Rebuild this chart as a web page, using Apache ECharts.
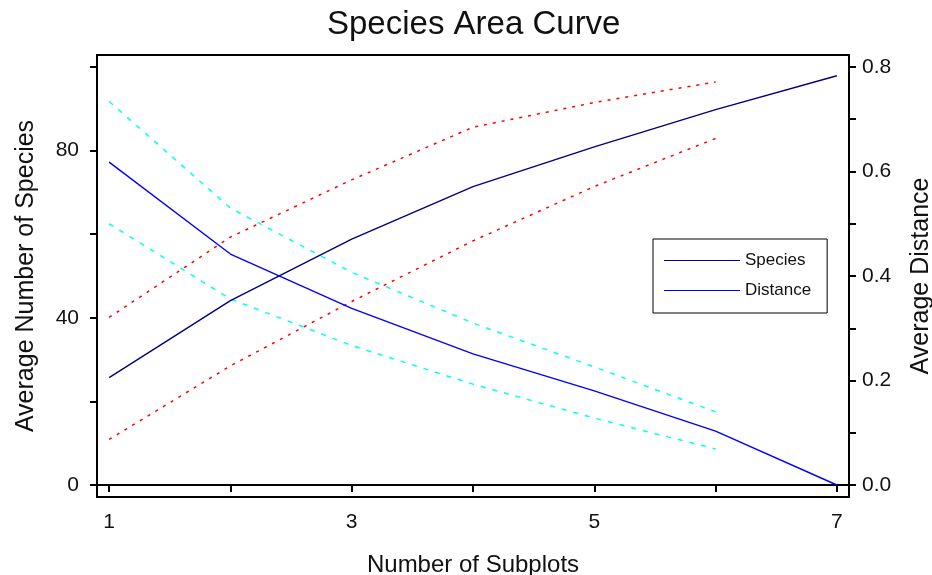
<!DOCTYPE html>
<html>
<head>
<meta charset="utf-8">
<script src="https://cdn.jsdelivr.net/npm/echarts@6/dist/echarts.min.js"></script>
<style>html,body{margin:0;padding:0;background:#fff}#c{width:932px;height:575px}</style>
</head>
<body>
<div id="c"></div>
<script>
// Data
const subplots = [1, 2, 3, 4, 5, 6, 7];
const speciesMean = [25.7, 44.1, 58.8, 71.4, 80.9, 89.8, 97.9];
const speciesUpper = [40.1, 59.3, 73.0, 85.6, 91.5, 96.4];
const speciesLower = [10.9, 28.5, 43.9, 58.4, 71.4, 82.9];
const distanceMean = [0.618, 0.442, 0.338, 0.251, 0.180, 0.103, 0.0];
const distanceUpper = [0.734, 0.530, 0.407, 0.310, 0.226, 0.140];
const distanceLower = [0.500, 0.356, 0.267, 0.193, 0.128, 0.069];
const xTicks = [1, 2, 3, 4, 5, 6, 7];
const xLabels = [1, 3, 5, 7];
const leftTicks = [0, 20, 40, 60, 80, 100];
const leftLabels = [0, 40, 80];
const rightTicks = [0, 0.1, 0.2, 0.3, 0.4, 0.5, 0.6, 0.7, 0.8];
const rightLabels = [0, 0.2, 0.4, 0.6, 0.8];

const pair = (ys) => ys.map((v, i) => [subplots[i], v]);
const FONT = '"Liberation Sans", Arial, sans-serif';
const TXT = '#111';

const chart = echarts.init(document.getElementById('c'), null, {renderer: 'canvas'});
chart.setOption({
  animation: false,
  backgroundColor: '#fff',
  title: {
    text: 'Species Area Curve',
    left: 322, top: 3,
    textStyle: {fontFamily: FONT, fontSize: 33, fontWeight: 'normal', color: TXT}
  },
  grid: {left: 97, right: 83, top: 55, bottom: 78, show: true, borderColor: '#000', borderWidth: 2,
         outerBoundsMode: 'none', containLabel: false},
  legend: {
    data: ['Species', 'Distance'],
    orient: 'vertical',
    left: 653, top: 239,
    padding: [13, 16, 14, 11],
    itemGap: 13,
    icon: 'rect', itemWidth: 76, itemHeight: 1.2,
    backgroundColor: '#fff', borderColor: '#000', borderWidth: 1,
    textStyle: {fontFamily: FONT, fontSize: 17, color: TXT}
  },
  xAxis: {
    type: 'value', min: 0.9, max: 7.1,
    name: 'Number of Subplots', nameLocation: 'middle', nameGap: 56,
    nameTextStyle: {fontFamily: FONT, fontSize: 24, color: TXT},
    axisLine: {show: true, lineStyle: {color: '#000', width: 2}},
    axisTick: {show: true, length: 7, lineStyle: {color: '#000', width: 2}, customValues: xTicks},
    axisLabel: {fontFamily: FONT, fontSize: 21, color: TXT, margin: 15, customValues: xLabels},
    splitLine: {show: false}
  },
  yAxis: [{
    type: 'value', min: -2.87, max: 102.87, position: 'left',
    name: 'Average Number of Species', nameLocation: 'middle', nameGap: 58,
    nameTextStyle: {fontFamily: FONT, fontSize: 25, color: TXT},
    axisLine: {show: true, lineStyle: {color: '#000', width: 2}},
    axisTick: {show: true, length: 7, lineStyle: {color: '#000', width: 2}, customValues: leftTicks},
    axisLabel: {fontFamily: FONT, fontSize: 21, color: TXT, margin: 18, customValues: leftLabels},
    splitLine: {show: false}
  }, {
    type: 'value', min: -0.02296, max: 0.82296, position: 'right',
    name: 'Average Distance', nameLocation: 'middle', nameGap: 60,
    nameTextStyle: {fontFamily: FONT, fontSize: 25, color: TXT},
    axisLine: {show: true, lineStyle: {color: '#000', width: 2}},
    axisTick: {show: true, length: 7, lineStyle: {color: '#000', width: 2}, customValues: rightTicks},
    axisLabel: {fontFamily: FONT, fontSize: 21, color: TXT, margin: 13, customValues: rightLabels,
      formatter: (v) => v.toFixed(1)},
    splitLine: {show: false}
  }],
  series: [
    {name: 'Species', type: 'line', yAxisIndex: 0, data: pair(speciesMean), showSymbol: false,
     lineStyle: {color: '#000080', width: 1.4}, itemStyle: {color: '#000080'}, z: 5},
    {name: 'Distance', type: 'line', yAxisIndex: 1, data: pair(distanceMean), showSymbol: false,
     lineStyle: {color: '#0000ff', width: 1.4}, itemStyle: {color: '#0000ff'}, z: 5},
    {name: 'Species upper', type: 'line', yAxisIndex: 0, data: pair(speciesUpper), showSymbol: false,
     lineStyle: {color: '#ff0000', width: 1.5, type: [3, 6]}},
    {name: 'Species lower', type: 'line', yAxisIndex: 0, data: pair(speciesLower), showSymbol: false,
     lineStyle: {color: '#ff0000', width: 1.5, type: [3, 6]}},
    {name: 'Distance upper', type: 'line', yAxisIndex: 1, data: pair(distanceUpper), showSymbol: false,
     lineStyle: {color: '#00ffff', width: 1.5, type: [5, 7]}},
    {name: 'Distance lower', type: 'line', yAxisIndex: 1, data: pair(distanceLower), showSymbol: false,
     lineStyle: {color: '#00ffff', width: 1.5, type: [5, 7]}}
  ]
});
</script>
</body>
</html>
